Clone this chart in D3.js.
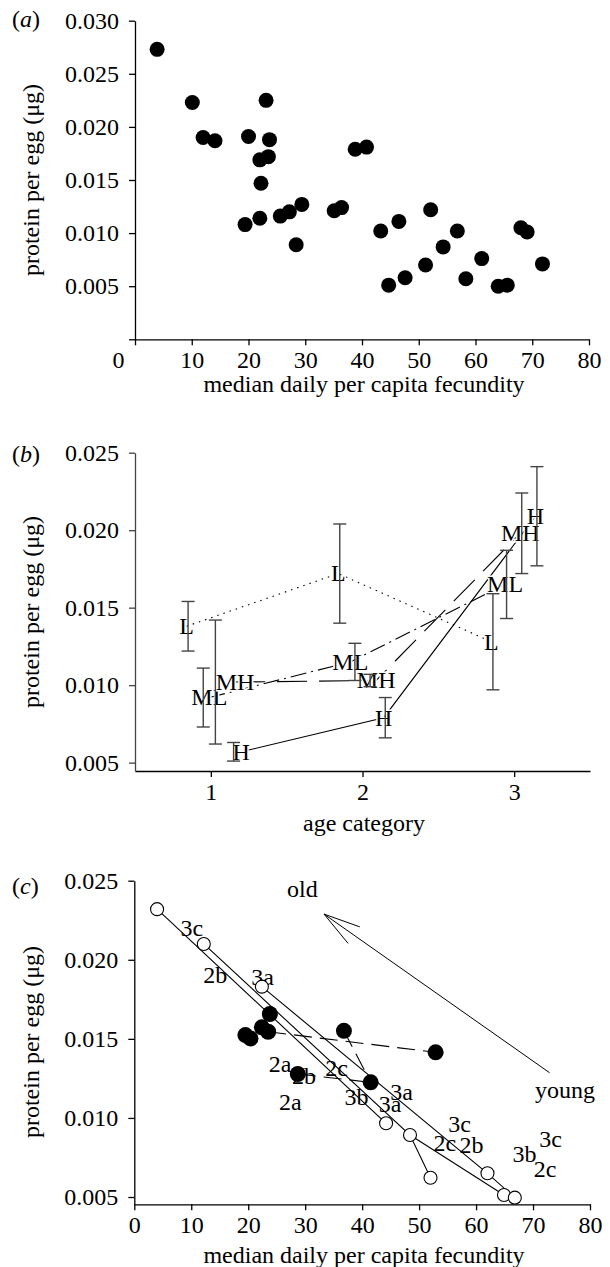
<!DOCTYPE html>
<html>
<head>
<meta charset="utf-8">
<script src="https://cdn.jsdelivr.net/npm/d3@7"></script>
<style>
body { margin: 0; background: #fff; }
svg text { font-family: "Liberation Serif", "Times New Roman", serif; font-size: 24px; fill: #000; }
</style>
</head>
<body>
<div id="chart"></div>
<script>
// ---- panel (a): protein per egg vs fecundity ----
var fecundityA = [3.9, 10.1, 12.0, 14.1, 20.0, 23.1, 23.7, 22.0, 23.5, 22.2, 38.8, 40.8,
	19.4, 22.0, 25.6, 27.2, 29.4, 28.4, 35.1, 36.4, 43.3, 46.5, 52.1, 44.7,
	47.6, 51.2, 54.3, 56.8, 58.3, 61.1, 64.0, 65.6, 68.0, 69.1, 71.8];
var proteinA = [0.0273, 0.0223, 0.0190, 0.0187, 0.0191, 0.0225, 0.0188, 0.0169, 0.0172, 0.0147, 0.0179, 0.0181,
	0.0108, 0.0114, 0.0116, 0.0120, 0.0127, 0.0089, 0.0121, 0.0124, 0.0102, 0.0111, 0.0122, 0.0051,
	0.0058, 0.0070, 0.0087, 0.0102, 0.0057, 0.0076, 0.0050, 0.0051, 0.0105, 0.0101, 0.0071];
var xTicksA = [0, 10, 20, 30, 40, 50, 60, 70, 80];
var yTicksA = [0, 0.005, 0.010, 0.015, 0.020, 0.025, 0.030];

// ---- panel (b): protein per egg by age category ----
var ageTicks = [1, 2, 3];
var seriesB = ['L', 'ML', 'MH', 'H'];
var pointX = {
	L: [0.84, 1.84, 2.85],
	ML: [0.99, 1.92, 2.94],
	MH: [1.16, 2.09, 3.04],
	H: [1.20, 2.14, 3.14]
};
var barX = {
	L: [0.85, 1.85, 2.86],
	ML: [0.95, 1.95, 2.95],
	MH: [1.03, 2.05, 3.05],
	H: [1.15, 2.15, 3.15]
};
var meanB = {
	L: [0.0138, 0.0172, 0.0128],
	ML: [0.0092, 0.0115, 0.0165],
	MH: [0.0102, 0.0103, 0.0198],
	H: [0.0057, 0.0079, 0.0209]
};
var errB = {
	L: [0.0016, 0.0032, 0.0031],
	ML: [0.0019, 0.0012, 0.0022],
	MH: [0.0040, 0.0004, 0.0026],
	H: [0.0006, 0.0013, 0.0032]
};
var dashB = { L: '1.5,5', ML: '16,5,2,5', MH: '30,12', H: null };
var yTicksB = [0.005, 0.010, 0.015, 0.020, 0.025];

// ---- panel (c): trajectories ----
var openX = [4.0, 12.2, 22.4, 44.2, 48.4, 52.0, 62.0, 64.9, 66.8];
var openY = [0.0232, 0.0210, 0.0183, 0.00966, 0.00892, 0.00622, 0.0065, 0.00513, 0.00496];
var openLinks = [[0, 3], [1, 4, 5], [4, 7], [2, 6, 8]];
var filledX = [19.5, 20.4, 22.4, 23.5, 23.8, 36.8, 52.9, 28.7, 41.5];
var filledY = [0.01524, 0.01503, 0.01573, 0.01545, 0.01657, 0.01551, 0.01415, 0.01278, 0.01225];
var filledLinks = [[3, 6], [5, 8], [7, 8]];
var cLabels = ['3c', '2b', '3a', '2a', '2b', '2c', '3b', '3a', '3a', '2a', '3c', '2c', '2b', '3b', '3c', '2c'];
var cLabelX = [10.1, 14.2, 22.5, 25.6, 29.8, 35.5, 39.0, 46.9, 44.9, 27.4, 57.1, 54.5, 59.2, 68.5, 73.1, 72.1];
var cLabelY = [0.02205, 0.01903, 0.01889, 0.01345, 0.01265, 0.01314, 0.01134, 0.01166, 0.01088, 0.01102,
	0.00961, 0.00843, 0.00829, 0.0077, 0.00865, 0.00677];
var arrowFrom = [72.9, 0.01286];
var arrowTo = [33.3, 0.02289];
var oldPos = [29.5, 0.02451];
var youngPos = [75.6, 0.01176];
var yTicksC = [0.005, 0.010, 0.015, 0.020, 0.025];

var svg = d3.select('#chart').append('svg')
	.attr('width', 610)
	.attr('height', 1267);

var fmt = d3.format('.3f');

function styleAxis(g, color) {
	g.selectAll('path, line').attr('stroke', color || '#000').attr('stroke-width', 1.3);
	g.selectAll('text').attr('fill', '#000');
	return g;
}

function panelTitle(letter, y) {
	var t = svg.append('text').attr('x', 12).attr('y', y);
	t.append('tspan').text('(');
	t.append('tspan').style('font-style', 'italic').text(letter);
	t.append('tspan').text(')');
}

function yTitle(yCenter) {
	svg.append('text')
		.attr('transform', 'translate(39,' + yCenter + ') rotate(-90)')
		.attr('text-anchor', 'middle')
		.text('protein per egg (μg)');
}

function xTitle(text, y) {
	svg.append('text')
		.attr('x', 364)
		.attr('y', y)
		.attr('text-anchor', 'middle')
		.text(text);
}

// ================= (a) =================
var xA = d3.scaleLinear().domain([0, 80]).range([135, 589]);
var yA = d3.scaleLinear().domain([0, 0.030]).range([339.3, 20.7]);

var gxA = svg.append('g').attr('transform', 'translate(0,' + yA(0) + ')')
	.call(d3.axisBottom(xA).tickValues(xTicksA).tickSize(6).tickPadding(6).tickSizeOuter(0));
styleAxis(gxA);
gxA.selectAll('.tick text').filter(function(d) { return d === 0; }).attr('x', -17);

var gyA = svg.append('g').attr('transform', 'translate(' + xA(0) + ',0)')
	.call(d3.axisLeft(yA).tickValues(yTicksA).tickSize(6).tickPadding(10).tickSizeOuter(0)
		.tickFormat(function(d) { return d === 0 ? '' : fmt(d); }));
styleAxis(gyA);

svg.append('g').selectAll('circle')
	.data(fecundityA)
	.enter().append('circle')
	.attr('cx', function(d) { return xA(d); })
	.attr('cy', function(d, i) { return yA(proteinA[i]); })
	.attr('r', 7.5)
	.attr('fill', '#000');

panelTitle('a', 27);
yTitle(180);
xTitle('median daily per capita fecundity', 392);

// ================= (b) =================
var xB = d3.scaleLinear().domain([0.5, 3.5]).range([135, 590]);
var yB = d3.scaleLinear().domain([0.00446, 0.025]).range([771, 452.7]);

var gxB = svg.append('g').attr('transform', 'translate(0,' + yB.range()[0] + ')')
	.call(d3.axisBottom(xB).tickValues(ageTicks).tickSize(6).tickPadding(6).tickSizeOuter(0)
		.tickFormat(d3.format('d')));
styleAxis(gxB);

var gyB = svg.append('g').attr('transform', 'translate(' + xB.range()[0] + ',0)')
	.call(d3.axisLeft(yB).tickValues(yTicksB).tickSize(6).tickPadding(10).tickSizeOuter(0)
		.tickFormat(fmt));
styleAxis(gyB, '#444');

var gB = svg.append('g');
var lineB = d3.line();

// connecting lines first
seriesB.forEach(function(s) {
	var pts = meanB[s].map(function(m, i) { return [xB(pointX[s][i]), yB(m)]; });
	gB.append('path')
		.attr('d', lineB(pts))
		.attr('fill', 'none')
		.attr('stroke', '#000')
		.attr('stroke-width', 1.1)
		.attr('stroke-dasharray', dashB[s]);
});

// letter symbols, with a thin white halo so the lines stop at them
seriesB.forEach(function(s) {
	gB.selectAll(null)
		.data(meanB[s])
		.enter().append('text')
		.attr('x', function(d, i) { return xB(pointX[s][i]); })
		.attr('y', function(d) { return yB(d); })
		.attr('dy', '0.33em')
		.attr('text-anchor', 'middle')
		.attr('stroke', '#fff')
		.attr('stroke-width', 3)
		.style('paint-order', 'stroke')
		.text(s);
});

// error bars on top
seriesB.forEach(function(s) {
	meanB[s].forEach(function(m, i) {
		var bx = xB(barX[s][i]);
		var top = yB(m + errB[s][i]);
		var bot = yB(m - errB[s][i]);
		gB.append('line').attr('x1', bx).attr('x2', bx).attr('y1', top).attr('y2', bot)
			.attr('stroke', '#444').attr('stroke-width', 1.4);
		[top, bot].forEach(function(yy) {
			gB.append('line').attr('x1', bx - 6.5).attr('x2', bx + 6.5).attr('y1', yy).attr('y2', yy)
				.attr('stroke', '#444').attr('stroke-width', 1.4);
		});
	});
});

panelTitle('b', 462);
yTitle(612);
xTitle('age category', 831);

// ================= (c) =================
var xC = d3.scaleLinear().domain([0, 80]).range([134.3, 590]);
var yC = d3.scaleLinear().domain([0.00454, 0.025]).range([1204.3, 880.7]);

var gxC = svg.append('g').attr('transform', 'translate(0,' + yC.range()[0] + ')')
	.call(d3.axisBottom(xC).tickValues(xTicksA).tickSize(6).tickPadding(6).tickSizeOuter(0));
styleAxis(gxC);

var gyC = svg.append('g').attr('transform', 'translate(' + xC.range()[0] + ',0)')
	.call(d3.axisLeft(yC).tickValues(yTicksC).tickSize(6).tickPadding(10).tickSizeOuter(0)
		.tickFormat(fmt));
styleAxis(gyC);

var gC = svg.append('g');

// point labels (drawn first, circles sit on top)
gC.selectAll('text.lab')
	.data(cLabels)
	.enter().append('text')
	.attr('class', 'lab')
	.attr('x', function(d, i) { return xC(cLabelX[i]); })
	.attr('y', function(d, i) { return yC(cLabelY[i]); })
	.attr('dy', '0.34em')
	.attr('text-anchor', 'middle')
	.text(function(d) { return d; });

// old -> young arrow
var ax0 = xC(arrowFrom[0]), ay0 = yC(arrowFrom[1]);
var ax1 = xC(arrowTo[0]), ay1 = yC(arrowTo[1]);
gC.append('line').attr('x1', ax0).attr('y1', ay0).attr('x2', ax1).attr('y2', ay1)
	.attr('stroke', '#000').attr('stroke-width', 1);
var ang = Math.atan2(ay0 - ay1, ax0 - ax1);
[-0.27, 0.27].forEach(function(da) {
	gC.append('line')
		.attr('x1', ax1).attr('y1', ay1)
		.attr('x2', ax1 + 38 * Math.cos(ang + da))
		.attr('y2', ay1 + 38 * Math.sin(ang + da))
		.attr('stroke', '#000').attr('stroke-width', 1);
});
gC.append('text').attr('x', xC(oldPos[0])).attr('y', yC(oldPos[1])).attr('dy', '0.34em')
	.attr('text-anchor', 'middle').text('old');
gC.append('text').attr('x', xC(youngPos[0])).attr('y', yC(youngPos[1])).attr('dy', '0.34em')
	.attr('text-anchor', 'middle').text('young');

var lineC = d3.line();
openLinks.forEach(function(idx) {
	gC.append('path')
		.attr('d', lineC(idx.map(function(i) { return [xC(openX[i]), yC(openY[i])]; })))
		.attr('fill', 'none').attr('stroke', '#000').attr('stroke-width', 1.1);
});
filledLinks.forEach(function(idx) {
	gC.append('path')
		.attr('d', lineC(idx.map(function(i) { return [xC(filledX[i]), yC(filledY[i])]; })))
		.attr('fill', 'none').attr('stroke', '#000').attr('stroke-width', 1.1)
		.attr('stroke-dasharray', '18,8');
});

gC.selectAll('circle.open')
	.data(openX)
	.enter().append('circle')
	.attr('class', 'open')
	.attr('cx', function(d) { return xC(d); })
	.attr('cy', function(d, i) { return yC(openY[i]); })
	.attr('r', 6.5)
	.attr('fill', '#fff')
	.attr('stroke', '#000')
	.attr('stroke-width', 1.1);

gC.selectAll('circle.filled')
	.data(filledX)
	.enter().append('circle')
	.attr('class', 'filled')
	.attr('cx', function(d) { return xC(d); })
	.attr('cy', function(d, i) { return yC(filledY[i]); })
	.attr('r', 8)
	.attr('fill', '#000');

panelTitle('c', 894);
yTitle(1042);
xTitle('median daily per capita fecundity', 1263);
</script>
</body>
</html>
